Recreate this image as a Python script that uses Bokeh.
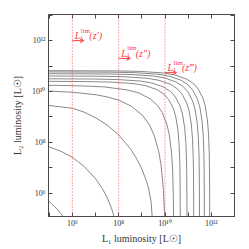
from bokeh.plotting import figure
from bokeh.models import LogAxis, FixedTicker, Span, Arrow, OpenHead, CustomJSTickFormatter
from bokeh.embed import file_html
from bokeh.resources import INLINE
from bokeh.core.properties import value

# ---- data: curves as (log10 L1, log10 L2) ----
curve_logL1 = [
    [4.9, 7.93, 8.93, 9.93, 10.43, 10.93, 11.23, 11.43, 11.63, 11.73, 11.83, 11.88, 11.91, 11.92, 11.927, 11.929],
    [4.9, 7.70, 8.70, 9.70, 10.20, 10.70, 11.00, 11.20, 11.40, 11.50, 11.60, 11.65, 11.68, 11.69, 11.697, 11.699],
    [4.9, 7.49, 8.49, 9.49, 9.99, 10.49, 10.79, 10.99, 11.19, 11.29, 11.39, 11.44, 11.47, 11.48, 11.487, 11.489],
    [4.9, 7.24, 8.24, 9.24, 9.74, 10.24, 10.54, 10.74, 10.94, 11.04, 11.14, 11.19, 11.22, 11.23, 11.237, 11.239],
    [4.9, 6.95, 7.95, 8.95, 9.45, 9.95, 10.25, 10.45, 10.65, 10.75, 10.85, 10.90, 10.93, 10.94, 10.947, 10.949],
    [4.9, 6.66, 7.66, 8.66, 9.16, 9.66, 9.96, 10.16, 10.36, 10.46, 10.56, 10.61, 10.64, 10.65, 10.657, 10.659],
    [4.9, 5.38, 6.38, 7.38, 8.38, 8.88, 9.38, 9.68, 9.88, 10.08, 10.18, 10.28, 10.33, 10.36, 10.37, 10.375],
    [4.9, 6.03, 7.03, 7.53, 8.03, 8.53, 9.03, 9.33, 9.53, 9.73, 9.83, 9.93, 9.98, 10.01],
    [4.9, 5.0, 6.0, 6.5, 7.0, 7.5, 8.0, 8.5, 8.8, 9.0, 9.2, 9.3, 9.4, 9.45],
    [4.9, 5.5, 6.0, 6.5, 7.0, 7.3, 7.5, 7.7, 7.8, 7.9],
    [4.9, 5.1, 5.3, 5.5, 5.6, 5.7],
]
curve_logL2 = [
    [10.82, 10.81, 10.79, 10.73, 10.65, 10.49, 10.31, 10.10, 9.75, 9.45, 8.89, 8.31, 7.54, 6.94, 5.90, 4.94],
    [10.77, 10.76, 10.74, 10.68, 10.60, 10.44, 10.26, 10.05, 9.70, 9.40, 8.84, 8.26, 7.49, 6.89, 5.85, 4.89],
    [10.70, 10.69, 10.67, 10.61, 10.53, 10.37, 10.19, 9.98, 9.63, 9.33, 8.77, 8.19, 7.42, 6.82, 5.78, 4.82],
    [10.61, 10.60, 10.58, 10.52, 10.44, 10.28, 10.10, 9.89, 9.54, 9.24, 8.68, 8.10, 7.33, 6.73, 5.69, 4.73],
    [10.50, 10.49, 10.47, 10.41, 10.33, 10.17, 9.99, 9.78, 9.43, 9.13, 8.57, 7.99, 7.22, 6.62, 5.58, 4.62],
    [10.40, 10.39, 10.37, 10.31, 10.23, 10.07, 9.89, 9.68, 9.33, 9.03, 8.47, 7.89, 7.12, 6.52, 5.48, 4.52],
    [10.24, 10.24, 10.22, 10.18, 10.06, 9.94, 9.70, 9.44, 9.17, 8.71, 8.32, 7.61, 6.88, 5.90, 5.16, 4.41],
    [10.02, 9.97, 9.87, 9.78, 9.65, 9.43, 9.06, 8.68, 8.28, 7.64, 7.10, 6.15, 5.17, 3.86],
    [9.45, 9.45, 9.34, 9.19, 8.97, 8.68, 8.29, 7.75, 7.32, 6.95, 6.47, 6.14, 5.66, 5.0],
    [7.85, 7.65, 7.41, 7.06, 6.57, 6.17, 5.83, 5.38, 5.08, 4.62],
    [5.735, 5.585, 5.41, 5.2, 5.08, 4.95],
]

decade_ticks = [1e5, 1e6, 1e7, 1e8, 1e9, 1e10, 1e11, 1e12, 1e13]
label_ticks = [1e6, 1e8, 1e10, 1e12]
label_texts = ["10⁶", "10⁸", "10¹⁰", "10¹²"]

lim_L1 = [1e6, 1e8, 1e10]
lim_arrow_L2 = [1e12, 2e11, 5.5e10]
lim_texts = ["(z′)", "(z″)", "(z‴)"]

x_label = "L₁ luminosity [L☉]"
y_label = "L₂ luminosity [L☉]"

SERIF = "Liberation Serif"
RED = "#ff3b3b"
AX = "#4a4a4a"

p = figure(frame_width=186, frame_height=202, x_axis_type="log", y_axis_type="log",
           x_range=(10**4.97, 1e13), y_range=(10**5.08, 10**13.03),
           output_backend="svg", toolbar_location=None,
           min_border_left=48, min_border_right=6, min_border_top=14, min_border_bottom=26)
p.background_fill_color = "white"
p.border_fill_color = "white"
p.outline_line_color = AX
p.grid.visible = False

fmt = CustomJSTickFormatter(args=dict(vals=label_ticks, labs=label_texts), code="""
for (let i = 0; i < vals.length; i++) {
  if (Math.abs(Math.log10(tick) - Math.log10(vals[i])) < 1e-6) return labs[i];
}
return "";
""")
blank = CustomJSTickFormatter(code="return '';")

for ax, lab in ((p.xaxis[0], x_label), (p.yaxis[0], y_label)):
    ax.ticker = FixedTicker(ticks=decade_ticks)
    ax.formatter = fmt
    ax.axis_label = lab
    ax.axis_label_text_font = SERIF
    ax.axis_label_text_font_style = "normal"
    ax.axis_label_text_font_size = "10px"
    ax.axis_label_text_color = "#333333"
    ax.major_label_text_font = SERIF
    ax.major_label_text_font_size = "8px"
    ax.major_label_text_color = "#333333"
    ax.major_tick_in = 4
    ax.major_tick_out = 0
    ax.minor_tick_line_color = None
    ax.axis_line_color = AX
    ax.major_tick_line_color = AX
p.xaxis[0].major_label_standoff = 2
p.xaxis[0].axis_label_standoff = 2
p.yaxis[0].major_label_standoff = 3
p.yaxis[0].axis_label_standoff = 6

for side in ("above", "right"):
    a = LogAxis(ticker=FixedTicker(ticks=decade_ticks), formatter=blank,
                major_tick_in=4, major_tick_out=0, minor_tick_line_color=None,
                axis_line_color=AX, major_tick_line_color=AX,
                major_label_standoff=0, major_label_text_font_size="1px")
    p.add_layout(a, side)

xs = [[10**v for v in c] for c in curve_logL1]
ys = [[10**v for v in c] for c in curve_logL2]
p.multi_line(xs, ys, line_color="#6a6a6a", line_width=0.8)

for x in lim_L1:
    p.add_layout(Span(location=x, dimension="height", line_color=RED,
                      line_dash="1 2", line_width=1, line_alpha=0.9))

for x, y in zip(lim_L1, lim_arrow_L2):
    p.add_layout(Arrow(x_start=x, y_start=y, x_end=x * 10**0.5, y_end=y,
                       line_color=RED, line_width=1,
                       end=OpenHead(size=4, line_color=RED, line_width=1)))

n = len(lim_L1)
p.text(x=lim_L1, y=lim_arrow_L2, text=["L"] * n, x_offset=2.5, y_offset=-5,
       text_font=value(SERIF), text_font_style="italic", text_font_size="10px",
       text_color=RED, text_baseline="alphabetic")
p.text(x=lim_L1, y=lim_arrow_L2, text=["1"] * n, x_offset=8, y_offset=-3,
       text_font=value(SERIF), text_font_size="6px",
       text_color=RED, text_baseline="alphabetic")
p.text(x=lim_L1, y=lim_arrow_L2, text=["lim"] * n, x_offset=8.5, y_offset=-10,
       text_font=value(SERIF), text_font_size="7px",
       text_color=RED, text_baseline="alphabetic")
p.text(x=lim_L1, y=lim_arrow_L2, text=lim_texts, x_offset=17, y_offset=-5,
       text_font=value(SERIF), text_font_style="italic", text_font_size="10px",
       text_color=RED, text_baseline="alphabetic")

open("out.html", "w").write(file_html(p, INLINE))
